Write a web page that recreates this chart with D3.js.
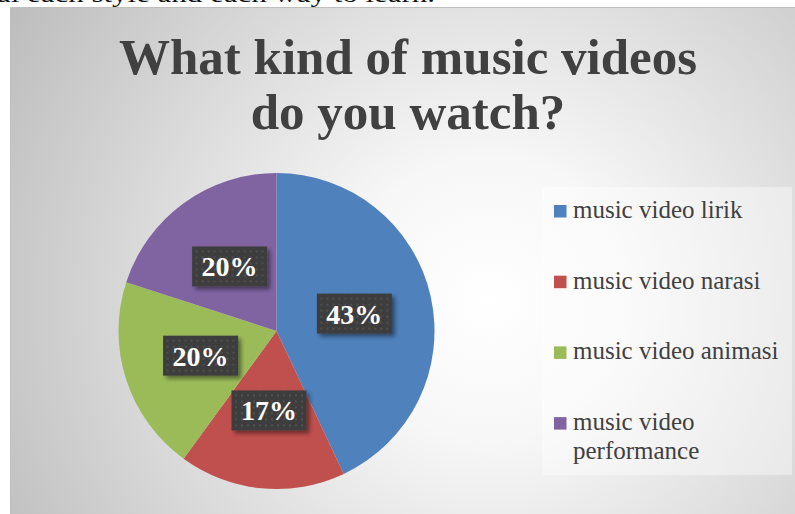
<!DOCTYPE html>
<html>
<head>
<meta charset="utf-8">
<script src="https://cdn.jsdelivr.net/npm/d3@7"></script>
<style>
  html, body { margin: 0; padding: 0; background: #ffffff; overflow: hidden; }
  svg { display: block; }
</style>
</head>
<body>
<svg id="chart" width="795" height="514"></svg>
<script>
// Survey answers
const categories = ["music video lirik", "music video narasi", "music video animasi", "music video performance"];
const values = [43, 17, 20, 20];
const colors = ["#4f81bd", "#c0504d", "#9bbb59", "#8064a2"];
const titleLines = ["What kind of music videos", "do you watch?"];
const legendLines = [["music video lirik"], ["music video narasi"], ["music video animasi"], ["music video", "performance"]];
const pageLine = "al each style and each way to learn.";

const svg = d3.select("#chart");
const W = 795, H = 514;
const serif = "'Liberation Serif', 'DejaVu Serif', serif";

const defs = svg.append("defs");

// Chart area radial fill
const bg = defs.append("radialGradient")
  .attr("id", "bgGrad")
  .attr("gradientUnits", "userSpaceOnUse")
  .attr("cx", 490).attr("cy", 300).attr("r", 560);
bg.append("stop").attr("offset", "0%").attr("stop-color", "#ffffff");
bg.append("stop").attr("offset", "25%").attr("stop-color", "#f7f7f7");
bg.append("stop").attr("offset", "100%").attr("stop-color", "#bdbdbd");

// Dotted fill for the data label boxes
const pat = defs.append("pattern")
  .attr("id", "dots")
  .attr("patternUnits", "userSpaceOnUse")
  .attr("width", 6).attr("height", 6);
pat.append("rect").attr("width", 6).attr("height", 6).attr("fill", "#3d3d3d");
pat.append("rect").attr("x", 2).attr("y", 2).attr("width", 2).attr("height", 2).attr("fill", "#4f4f4f");

const shadow = defs.append("filter").attr("id", "shadow")
  .attr("x", "-20%").attr("y", "-20%").attr("width", "150%").attr("height", "160%");
shadow.append("feDropShadow")
  .attr("dx", 3).attr("dy", 3).attr("stdDeviation", 2)
  .attr("flood-color", "#000").attr("flood-opacity", 0.45);

// Surrounding document text line, mostly cut off at the top
svg.append("text")
  .attr("x", -3).attr("y", 2)
  .attr("font-family", serif)
  .attr("font-size", 24)
  .attr("fill", "#111")
  .attr("textLength", 438)
  .attr("lengthAdjust", "spacingAndGlyphs")
  .text(pageLine);

// Chart area
svg.append("rect")
  .attr("x", 10.5).attr("y", 7.5)
  .attr("width", W + 20).attr("height", H + 20)
  .attr("fill", "url(#bgGrad)")
  .attr("stroke", "#bfbfbf").attr("stroke-width", 1);

// Title
const title = svg.append("text")
  .attr("text-anchor", "middle")
  .attr("font-family", serif)
  .attr("font-weight", "bold")
  .attr("font-size", 51)
  .attr("fill", "#404040");
titleLines.forEach((t, i) => {
  title.append("tspan").attr("x", 408).attr("y", 74 + i * 55).text(t);
});

// Pie
const cx = 276.5, cy = 331, r = 158;
const pie = d3.pie().sort(null).value(d => d)(values);
const arc = d3.arc().innerRadius(0).outerRadius(r);
const labelArc = d3.arc().innerRadius(r * 0.505).outerRadius(r * 0.505);

const g = svg.append("g").attr("transform", `translate(${cx},${cy})`);
g.selectAll("path.slice")
  .data(pie)
  .join("path")
  .attr("class", "slice")
  .attr("d", arc)
  .attr("fill", (d, i) => colors[i])
  .attr("stroke", "none");

// Data labels
const total = d3.sum(values);
const lbl = g.selectAll("g.lbl")
  .data(pie)
  .join("g")
  .attr("class", "lbl")
  .attr("transform", d => `translate(${labelArc.centroid(d)})`);
lbl.append("rect")
  .attr("x", -37.5).attr("y", -20)
  .attr("width", 75).attr("height", 40)
  .attr("fill", "url(#dots)")
  .attr("filter", "url(#shadow)");
lbl.append("text")
  .attr("text-anchor", "middle")
  .attr("y", 10)
  .attr("font-family", serif)
  .attr("font-weight", "bold")
  .attr("font-size", 28)
  .attr("fill", "#ffffff")
  .text(d => Math.round(d.data / total * 100) + "%");

// Legend
svg.append("rect")
  .attr("x", 542).attr("y", 187)
  .attr("width", 250).attr("height", 288)
  .attr("fill", "#ffffff").attr("fill-opacity", 0.4);

const leg = svg.selectAll("g.leg")
  .data(categories)
  .join("g")
  .attr("class", "leg")
  .attr("transform", (d, i) => `translate(554,${205 + i * 70.7})`);
leg.append("rect")
  .attr("width", 12.5).attr("height", 12.5)
  .attr("fill", (d, i) => colors[i]);
leg.append("text")
  .attr("font-family", serif)
  .attr("font-size", 25)
  .attr("fill", "#404040")
  .each(function (d, i) {
    const t = d3.select(this);
    legendLines[i].forEach((line, j) => {
      t.append("tspan").attr("x", 19).attr("y", 13 + j * 28.5).text(line);
    });
  });
</script>
</body>
</html>
